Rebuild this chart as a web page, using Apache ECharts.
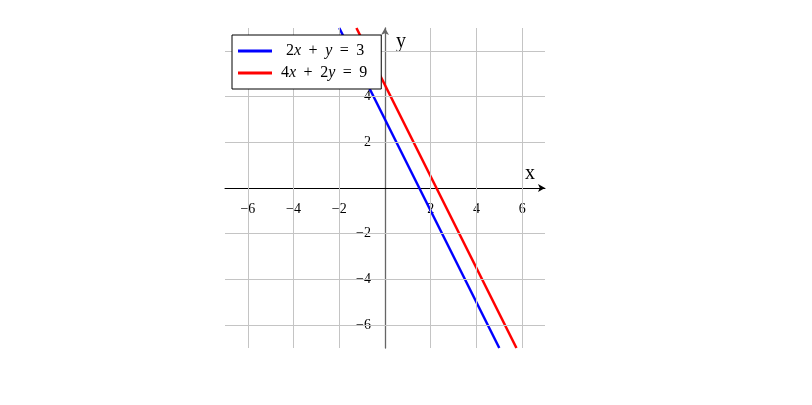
<!DOCTYPE html>
<html><head><meta charset="utf-8">
<script src="https://cdn.jsdelivr.net/npm/echarts@6/dist/echarts.min.js"></script>
<style>html,body{margin:0;padding:0;background:#fff}#c{width:812px;height:405px}</style>
</head><body><div id="c"></div>
<script>
// data
const axisMin = -7, axisMax = 7;
const gridValues = [-6, -4, -2, 2, 4, 6];
const labelValues = [-6, -4, -2, 2, 4, 6];
const blueName = '2x + y = 3';
const blueX = [-2, 5];
const blueY = [7, -7];
const redName = '4x + 2y = 9';
const redX = [-1.25, 5.75];
const redY = [7, -7];

const serif = 'Liberation Serif';
const fmt = v => labelValues.includes(v) ? (v < 0 ? '\u2212' + (-v) : String(v)) : '';
const zip = (a, b) => a.map((x, i) => [x, b[i]]);
const legendRich = {
  '2x + y = 3': '{g| }{n|2}{v|x}{o|+}{v|y}{o|=}{n|3}',
  '4x + 2y = 9': '{n|4}{v|x}{o|+}{n|2}{v|y}{o|=}{n|9}'
};
const gridStyle = { color: '#c4c4c4', width: 1, type: 'solid' };

const chart = echarts.init(document.getElementById('c'));
chart.setOption({
  animation: false,
  backgroundColor: '#fff',
  grid: { left: 225, top: 28, width: 320, height: 320, containLabel: false },
  xAxis: {
    type: 'value', min: axisMin, max: axisMax, interval: 1, z: 2,
    position: 'bottom', offset: -160,
    axisLine: { onZero: false, lineStyle: { color: '#000', width: 1 }, symbol: ['none', 'arrow'], symbolSize: [6, 7] },
    axisTick: { show: false },
    splitLine: { show: false },
    axisLabel: { formatter: fmt, fontFamily: serif, fontSize: 14, color: '#000', margin: 14 },
    name: 'x', nameLocation: 'end', nameGap: -15,
    nameTextStyle: { fontFamily: serif, fontSize: 20, color: '#000', align: 'center', verticalAlign: 'bottom', padding: [0, 0, 4, 0] }
  },
  yAxis: {
    type: 'value', min: axisMin, max: axisMax, interval: 1, z: 2,
    position: 'left', offset: -160,
    axisLine: { onZero: false, lineStyle: { color: '#666', width: 1.3 }, symbol: ['none', 'arrow'], symbolSize: [6, 7] },
    axisTick: { show: false },
    splitLine: { show: false },
    axisLabel: { formatter: fmt, fontFamily: serif, fontSize: 14, color: '#000', margin: 14 },
    name: 'y', nameLocation: 'end', nameGap: -14,
    nameTextStyle: { fontFamily: serif, fontSize: 20, color: '#000', align: 'left', verticalAlign: 'middle', padding: [0, 0, 0, 11] }
  },
  legend: {
    data: [blueName, redName],
    left: 232, top: 35, orient: 'vertical',
    backgroundColor: '#fff', borderColor: '#000', borderWidth: 1, borderRadius: 0,
    padding: [8, 14, 8, 6], itemGap: 6, itemWidth: 34, itemHeight: 3, icon: 'rect',
    formatter: n => legendRich[n],
    textStyle: {
      padding: [0, 0, 0, 4],
      rich: {
        n: { fontFamily: serif, fontSize: 16, color: '#000' },
        v: { fontFamily: serif, fontSize: 16, fontStyle: 'italic', color: '#000' },
        o: { fontFamily: serif, fontSize: 16, color: '#000', padding: [0, 7.5, 0, 7.5] },
        g: { fontFamily: serif, fontSize: 16, width: 5 }
      }
    },
    zlevel: 1,
    z: 10
  },
  series: [
    {
      type: 'line', data: [], silent: true, z: 1,
      markLine: {
        silent: true, symbol: 'none', label: { show: false }, lineStyle: gridStyle, animation: false,
        data: gridValues.map(v => ({ xAxis: v })).concat(gridValues.map(v => ({ yAxis: v })))
      }
    },
    {
      name: blueName, type: 'line', data: zip(blueX, blueY), showSymbol: false, z: 3,
      lineStyle: { color: '#0000ff', width: 2.5 }, itemStyle: { color: '#0000ff' }
    },
    {
      name: redName, type: 'line', data: zip(redX, redY), showSymbol: false, z: 3,
      lineStyle: { color: '#ff0000', width: 2.5 }, itemStyle: { color: '#ff0000' }
    }
  ]
});
</script></body></html>
